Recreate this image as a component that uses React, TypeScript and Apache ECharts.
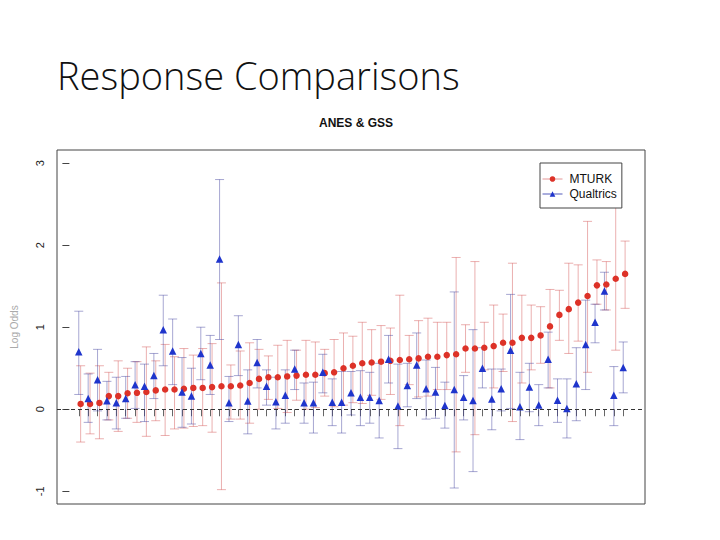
import React, { useEffect, useRef } from "react";
import * as echarts from "echarts";

// Item index (x position) for each comparison
const items = [
  1, 2, 3, 4, 5, 6, 7, 8, 9, 10, 11, 12, 13, 14, 15, 16, 17, 18, 19, 20,
  21, 22, 23, 24, 25, 26, 27, 28, 29, 30, 31, 32, 33, 34, 35, 36, 37, 38, 39, 40,
  41, 42, 43, 44, 45, 46, 47, 48, 49, 50, 51, 52, 53, 54, 55, 56, 57, 58, 59,
];

const mturkMean = [
  0.065, 0.065, 0.077, 0.16, 0.16, 0.195, 0.2, 0.21, 0.23, 0.24, 0.24, 0.25, 0.26, 0.26, 0.27,
  0.28, 0.28, 0.29, 0.32, 0.37, 0.39, 0.39, 0.4, 0.41, 0.42, 0.42, 0.44, 0.45, 0.5, 0.53,
  0.56, 0.57, 0.58, 0.59, 0.6, 0.61, 0.62, 0.64, 0.64, 0.66, 0.67, 0.74, 0.74, 0.75, 0.77,
  0.81, 0.81, 0.87, 0.87, 0.9, 1.01, 1.15, 1.22, 1.3, 1.38, 1.51, 1.52, 1.59, 1.65,
];
const mturkLow = [
  -0.4, -0.3, -0.36, -0.13, -0.27, -0.11, -0.16, -0.33, -0.14, -0.32, -0.24, -0.23, -0.21, -0.2, -0.28,
  -0.98, -0.12, -0.12, -0.17, 0.0, 0.12, 0.01, -0.04, 0.11, 0.0, 0.02, 0.16, 0.03, 0.05, 0.08,
  0.07, 0.17, 0.12, 0.18, -0.2, 0.3, 0.15, 0.16, 0.24, 0.24, -0.52, 0.45, -0.31, 0.48, 0.26,
  0.46, -0.15, 0.32, 0.48, 0.56, 0.26, 0.84, 0.68, 0.83, 0.45, 1.28, 1.21, 0.72, 1.23,
];
const mturkHigh = [
  0.53, 0.44, 0.53, 0.45, 0.59, 0.5, 0.58, 0.76, 0.59, 0.79, 0.64, 0.74, 0.66, 0.74, 0.8,
  1.54, 0.54, 0.71, 0.81, 0.73, 0.65, 0.78, 0.84, 0.72, 0.84, 0.82, 0.73, 0.85, 0.93, 0.89,
  1.06, 0.97, 1.02, 0.99, 1.39, 0.9, 1.08, 1.11, 1.06, 1.06, 1.85, 1.03, 1.8, 1.06, 1.27,
  1.16, 1.78, 1.39, 1.27, 1.25, 1.46, 1.45, 1.78, 1.76, 2.29, 1.82, 1.8, 2.46, 2.05,
];

const qualMean = [
  0.7, 0.13, 0.36, 0.105, 0.08, 0.13, 0.3, 0.28, 0.41, 0.97, 0.71, 0.21, 0.16, 0.68, 0.54,
  1.83, 0.08, 0.79, 0.1, 0.57, 0.28, 0.09, 0.17, 0.49, 0.08, 0.08, 0.45, 0.085, 0.085, 0.2,
  0.146, 0.146, 0.106, 0.61, 0.04, 0.29, 0.54, 0.25, 0.21, 0.045, 0.24, 0.146, 0.106, 0.5, 0.126,
  0.25, 0.72, 0.03, 0.27, 0.053, 0.61, 0.11, 0.01, 0.31, 0.79, 1.06, 1.44, 0.17, 0.51,
];
const qualLow = [
  0.18, -0.16, -0.02, -0.13, -0.24, -0.11, 0.01, -0.15, 0.13, 0.53, 0.3, -0.22, -0.18, 0.36, 0.18,
  0.85, -0.15, 0.41, -0.3, 0.26, 0.05, -0.24, -0.17, 0.24, -0.17, -0.29, 0.2, -0.2, -0.29, -0.07,
  -0.2, -0.17, -0.35, 0.32, -0.48, 0.03, 0.13, -0.12, -0.11, -0.23, -0.96, -0.13, -0.76, 0.26, -0.25,
  -0.02, 0.01, -0.37, -0.03, -0.2, 0.26, -0.16, -0.35, -0.14, 0.24, 0.81, 1.21, -0.2, 0.2,
];
const qualHigh = [
  1.195, 0.43, 0.73, 0.34, 0.39, 0.4, 0.58, 0.55, 0.68, 1.39, 1.1, 0.63, 0.5, 1.0, 0.9,
  2.8, 0.4, 1.14, 0.48, 0.85, 0.48, 0.39, 0.48, 0.72, 0.32, 0.33, 0.67, 0.37, 0.46, 0.46,
  0.47, 0.45, 0.56, 0.9, 0.55, 0.56, 0.93, 0.6, 0.51, 0.33, 1.43, 0.41, 0.97, 0.75, 0.49,
  0.49, 1.4, 0.45, 0.56, 0.3, 0.94, 0.37, 0.37, 0.75, 1.33, 1.28, 1.67, 0.52, 0.82,
];

const yTicks = [-1, 0, 1, 2, 3];

const RED = "#dd3228";
const BLUE = "#1f35cc";
const RED_BAR = "rgba(210,80,80,0.45)";
const BLUE_BAR = "rgba(60,60,155,0.45)";
const RED_SHIFT = 0.2;

function errorBarSeries(name: string, data: number[][], color: string) {
  return {
    type: "custom",
    name,
    z: 1,
    encode: { x: 0, y: [1, 2] },
    data,
    renderItem: (params: any, api: any) => {
      const x = api.value(0);
      const p1 = api.coord([x, api.value(1)]);
      const p2 = api.coord([x, api.value(2)]);
      const w = 4.5;
      const st = { stroke: color, lineWidth: 1 };
      return {
        type: "group",
        children: [
          { type: "line", shape: { x1: p1[0], y1: p1[1], x2: p2[0], y2: p2[1] }, style: st },
          { type: "line", shape: { x1: p1[0] - w, y1: p1[1], x2: p1[0] + w, y2: p1[1] }, style: st },
          { type: "line", shape: { x1: p2[0] - w, y1: p2[1], x2: p2[0] + w, y2: p2[1] }, style: st },
        ],
      };
    },
  };
}

export default function App() {
  const ref = useRef<HTMLDivElement>(null);
  useEffect(() => {
    if (!ref.current) return;
    const chart = echarts.init(ref.current, null, { renderer: "svg" });

    const redBars = items.map((x, i) => [x + RED_SHIFT, mturkLow[i], mturkHigh[i]]);
    const blueBars = items.map((x, i) => [x, qualLow[i], qualHigh[i]]);
    const redPts = items.map((x, i) => [x + RED_SHIFT, mturkMean[i]]);
    const bluePts = items.map((x, i) => [x, qualMean[i]]);

    chart.setOption({
      animation: false,
      backgroundColor: "#ffffff",
      title: {
        text: "ANES & GSS",
        left: 351,
        top: 112,
        textAlign: "center",
        textStyle: {
          fontFamily: "'Liberation Sans', Arial, sans-serif",
          fontSize: 12,
          fontWeight: "bold",
          color: "#111",
        },
      },
      graphic: [
        {
          type: "text",
          left: 57,
          top: 56,
          style: {
            text: "Response Comparisons",
            font: "300 38px 'Open Sans', 'Noto Sans', sans-serif",
            fill: "#111",
          },
        },
      ],
      legend: {
        orient: "vertical",
        left: 540,
        top: 163,
        padding: [10, 5, 8, 2],
        itemGap: 3,
        itemWidth: 20,
        itemHeight: 7,
        borderColor: "#444",
        borderWidth: 1,
        backgroundColor: "#fff",
        lineStyle: { opacity: 1, width: 1 },
        textStyle: {
          fontFamily: "'Liberation Sans Narrow', 'Liberation Sans', Arial, sans-serif",
          fontSize: 12,
          color: "#111",
          padding: [0, 0, 0, 2],
        },
        data: [
          { name: "MTURK", lineStyle: { color: "rgba(210,80,80,0.6)", opacity: 1, width: 1 } },
          { name: "Qualtrics", lineStyle: { color: "rgba(40,50,170,0.8)", opacity: 1, width: 1 } },
        ],
      },
      grid: {
        left: 57,
        right: 75,
        top: 150,
        bottom: 36,
        show: true,
        borderColor: "#444",
        borderWidth: 1,
        backgroundColor: "transparent",
      },
      xAxis: {
        type: "value",
        min: -1.32,
        max: 61.32,
        splitLine: { show: false },
        axisLine: { show: false },
        axisLabel: { show: false },
        axisTick: {
          show: true,
          length: 7,
          customValues: items,
          lineStyle: { color: "#666" },
        },
      },
      yAxis: {
        type: "value",
        min: -1.155,
        max: 3.16,
        name: "Log Odds",
        nameLocation: "middle",
        nameGap: 38,
        nameRotate: 90,
        nameTextStyle: {
          fontFamily: "'Liberation Sans', Arial, sans-serif",
          fontSize: 10,
          color: "#aaa",
        },
        splitLine: { show: false },
        axisLine: { show: false },
        axisTick: {
          show: true,
          length: 7,
          customValues: yTicks,
          lineStyle: { color: "#444" },
        },
        axisLabel: {
          customValues: yTicks,
          rotate: 90,
          margin: 12,
          fontFamily: "'Liberation Sans', Arial, sans-serif",
          fontSize: 11,
          color: "#222",
        },
      },
      series: [
        errorBarSeries("MTURK-err", redBars, RED_BAR),
        errorBarSeries("Qualtrics-err", blueBars, BLUE_BAR),
        {
          type: "line",
          name: "MTURK",
          data: redPts,
          z: 3,
          symbol: "circle",
          symbolSize: 6.5,
          showSymbol: true,
          itemStyle: { color: RED },
          lineStyle: { opacity: 0 },
          markLine: {
            silent: true,
            symbol: "none",
            label: { show: false },
            lineStyle: { color: "#333", type: [4, 3], width: 1 },
            data: [{ yAxis: 0 }],
          },
        },
        {
          type: "line",
          name: "Qualtrics",
          data: bluePts,
          z: 4,
          symbol: "triangle",
          symbolSize: 7.5,
          showSymbol: true,
          itemStyle: { color: BLUE },
          lineStyle: { opacity: 0 },
        },
      ],
    });
    return () => chart.dispose();
  }, []);

  return (
    <div
      ref={ref}
      style={{ position: "absolute", left: 0, top: 0, width: 720, height: 540, background: "#fff" }}
    />
  );
}
